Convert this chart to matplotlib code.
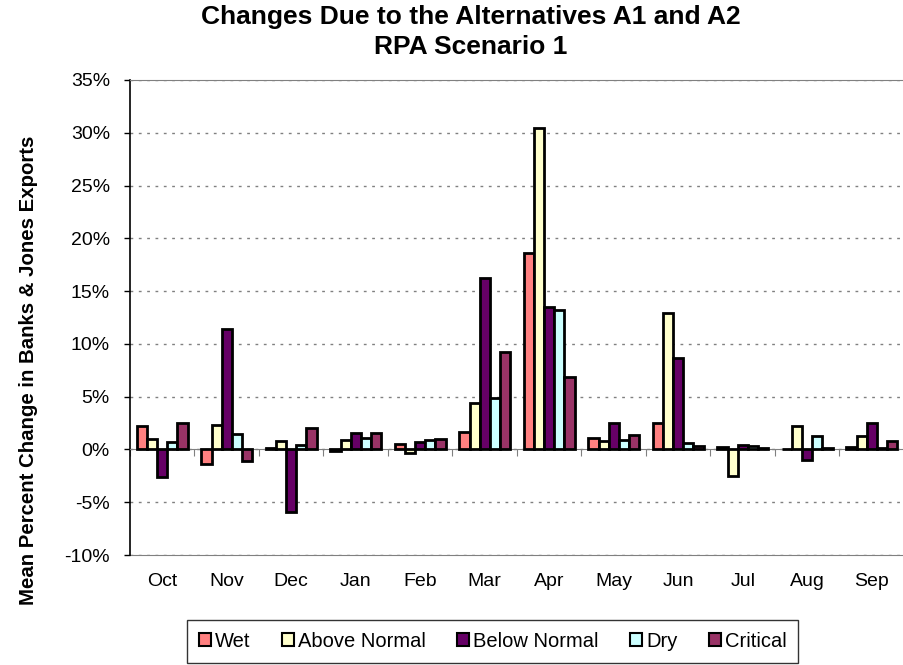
import numpy as np
import matplotlib.pyplot as plt
from matplotlib.patches import Patch

months = ['Oct', 'Nov', 'Dec', 'Jan', 'Feb', 'Mar', 'Apr', 'May', 'Jun', 'Jul', 'Aug', 'Sep']
wet = [2.2, -1.4, 0.1, -0.15, 0.55, 1.7, 18.6, 1.1, 2.5, 0.2, 0.05, 0.2]
above_normal = [1.0, 2.3, 0.8, 0.85, -0.3, 4.4, 30.5, 0.8, 12.9, -2.5, 2.2, 1.3]
below_normal = [-2.6, 11.4, -5.9, 1.6, 0.7, 16.2, 13.5, 2.5, 8.7, 0.45, -1.0, 2.5]
dry = [0.7, 1.5, 0.4, 1.1, 0.85, 4.9, 13.2, 0.85, 0.6, 0.35, 1.3, 0.1]
critical = [2.5, -1.1, 2.05, 1.6, 1.0, 9.2, 6.9, 1.35, 0.35, 0.1, 0.1, 0.8]

series = [('Wet', wet, '#FF8080'),
          ('Above Normal', above_normal, '#FFFFCC'),
          ('Below Normal', below_normal, '#660066'),
          ('Dry', dry, '#CCFFFF'),
          ('Critical', critical, '#993366')]

plt.rcParams['font.family'] = ['Liberation Sans', 'DejaVu Sans']

fig = plt.figure(figsize=(9.04, 6.65), dpi=100)
ax = fig.add_axes([0.1438, 0.1654, 0.8562, 0.7143])

x = np.arange(len(months))
w = 0.157
for i, (name, vals, col) in enumerate(series):
    ax.bar(x + (i - 2) * w, vals, w, color=col, edgecolor='black', linewidth=2, zorder=3)

ax.set_xlim(-0.5, len(months) - 0.5)
ax.set_ylim(-10, 35)
ax.set_yticks(np.arange(-10, 36, 5))
ax.set_yticklabels([f'{v}%' for v in range(-10, 36, 5)], fontsize=14)
ax.yaxis.grid(True, linestyle=(0, (2, 4)), color='#808080', linewidth=1)
ax.set_axisbelow(True)

# x axis crosses at zero, tick marks between categories
ax.spines['bottom'].set_position(('data', 0))
ax.spines['bottom'].set_color('#808080')
ax.set_xticks(np.arange(len(months) + 1) - 0.5)
ax.tick_params(axis='x', length=5, color='#808080', labelbottom=False)
ax.tick_params(axis='y', length=4.5, width=1, pad=10)
ax.spines['right'].set_visible(False)
ax.spines['top'].set_color('#808080')
ax.spines['left'].set_linewidth(1.2)

sec = ax.secondary_xaxis('bottom')
sec.set_xticks(x)
sec.set_xticklabels(months, fontsize=14)
sec.tick_params(length=0, pad=13)
sec.spines['bottom'].set_color('#808080')

fig.text(0.5205, 0.993, 'Changes Due to the Alternatives A1 and A2\nRPA Scenario 1',
         fontsize=19, fontweight='bold', ha='center', va='top', linespacing=1.35)
ax.set_ylabel('Mean Percent Change in Banks & Jones Exports', fontsize=14.7,
              fontweight='bold')
ax.yaxis.set_label_coords(-0.119, 0.389)

handles = [Patch(facecolor=c, edgecolor='black', linewidth=1.5) for _, _, c in series]
leg = fig.legend(handles, [n for n, _, _ in series], loc='lower center',
                 bbox_to_anchor=(0.545, 0.0), ncol=5, fontsize=14.5, frameon=True,
                 fancybox=False, edgecolor='black', handlelength=0.6, handleheight=0.6,
                 handletextpad=0.2, columnspacing=1.55, borderpad=0.6,
                 borderaxespad=0.1)
leg.get_frame().set_linewidth(1)

fig.savefig('out.png', dpi=100)
